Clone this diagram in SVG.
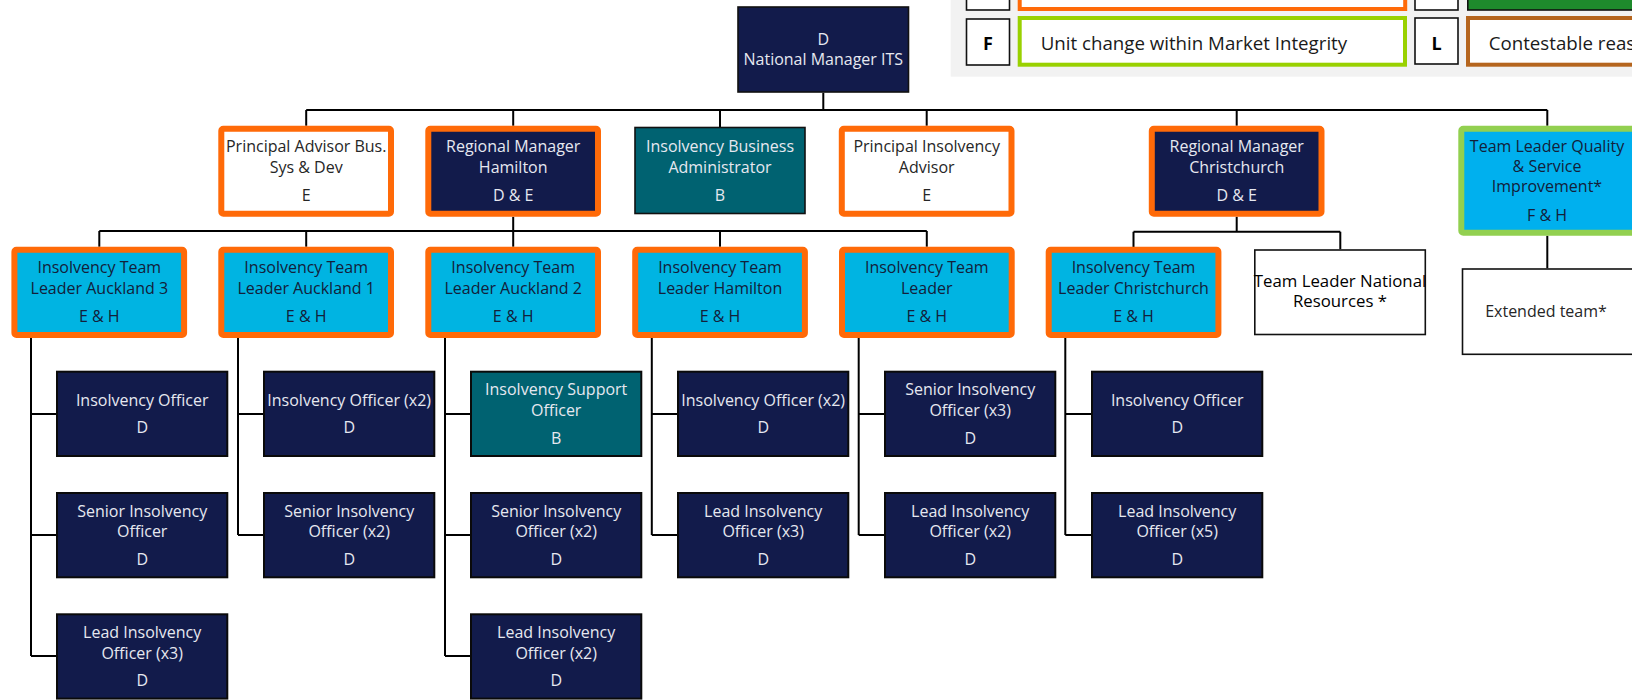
<svg xmlns="http://www.w3.org/2000/svg" width="1632" height="700" viewBox="0 0 1632 700">
  <style>
    text { font-family: "Open Sans", "Liberation Sans", sans-serif; font-size: 16px; text-anchor: middle; }
    .lt { fill: #e6e8f0; }
    .dk { fill: #13203a; }
    .gr { fill: #262626; }
    .bk { fill: #000000; font-size: 16.8px; }
    .navy { fill: #121b4b; }
    .teal { fill: #006271; }
    .sky { fill: #00b4e2; }
    .white { fill: #ffffff; }
    .orange { stroke: #ff6a08; stroke-width: 6; }
    .thin { stroke: #111111; stroke-width: 1.6; }
    .child { stroke: #0a0a0a; stroke-width: 2; }
    .green { stroke: #92d050; stroke-width: 6; }
    .conn { stroke: #000000; stroke-width: 2; fill: none; }
    .leg { font-size: 18.7px; text-anchor: start; fill: #1a1a1a; }
    .key { font-size: 18px; font-weight: bold; fill: #000; }
  </style>

  <!-- legend panel -->
  <g id="legend">
    <rect x="950.7" y="-5" width="700" height="81.7" fill="#f2f2f2"/>
    <rect x="966.5" y="-10" width="43" height="20" fill="#fff" stroke="#111" stroke-width="1.6"/>
    <rect x="1019.7" y="-10" width="385.5" height="19" fill="#fff" stroke="#ff6a08" stroke-width="4"/>
    <rect x="1415" y="-10" width="43" height="20" fill="#fff" stroke="#111" stroke-width="1.6"/>
    <rect x="1467.8" y="-10" width="180" height="20" fill="#1e8a2c" stroke="#111" stroke-width="1.6"/>
    <rect x="966.5" y="19" width="43" height="46" fill="#fff" stroke="#111" stroke-width="1.6"/>
    <text class="key" x="988" y="50">F</text>
    <rect x="1019.7" y="18" width="385.3" height="46.7" fill="#fff" stroke="#99d100" stroke-width="4"/>
    <text class="leg" x="1040.7" y="50">Unit change within Market Integrity</text>
    <rect x="1415" y="18" width="43" height="46" fill="#fff" stroke="#111" stroke-width="1.6"/>
    <text class="key" x="1436.5" y="50">L</text>
    <rect x="1468" y="18" width="180" height="46.7" fill="#fff" stroke="#b5651e" stroke-width="4"/>
    <text class="leg" x="1488.7" y="50">Contestable reas</text>
  </g>

  <!-- connectors -->
  <g id="connectors">
    <path class="conn" d="M823.3 92.7 V110 M306.2 110 H1547.3 M306.2 110 V125.7 M513.2 110 V125.7 M720 110 V127 M926.7 110 V125.7 M1236.7 110 V125.7 M1547.3 110 V125.7"/>
    <path class="conn" d="M513.2 216.7 V231 M99.3 231 H926.8 M99.3 231 V246.7 M306.2 231 V246.7 M513.2 231 V246.7 M720 231 V246.7 M926.8 231 V246.7"/>
    <path class="conn" d="M1236.7 216.7 V231.7 M1133.5 231.7 H1340.3 M1133.5 231.7 V247.3 M1340.3 231.7 V249.3"/>
    <path class="conn" d="M1547.3 235.7 V268.3"/>
    <!-- team leader to officer links -->
    <path class="conn" d="M31 338 V656 M31 414 H56 M31 535 H56 M31 656 H56"/>
    <path class="conn" d="M238 338 V535 M238 414 H263 M238 535 H263"/>
    <path class="conn" d="M445 338 V656 M445 414 H470 M445 535 H470 M445 656 H470"/>
    <path class="conn" d="M651.8 338 V535 M651.8 414 H677 M651.8 535 H677"/>
    <path class="conn" d="M858.7 338 V535 M858.7 414 H884 M858.7 535 H884"/>
    <path class="conn" d="M1065.3 338 V535 M1065.3 414 H1091 M1065.3 535 H1091"/>
  </g>

  <!-- top -->
  <g id="national-manager">
    <rect class="navy thin" x="738" y="7" width="170.5" height="85"/>
    <text class="lt" x="823.3" y="45">D</text>
    <text class="lt" x="823.3" y="65">National Manager ITS</text>
  </g>

  <!-- second level -->
  <g id="principal-advisor-bus">
    <rect class="white orange" x="221.3" y="128.7" width="169.7" height="85" rx="2"/>
    <text class="gr" x="306.2" y="151.7">Principal Advisor Bus.</text>
    <text class="gr" x="306.2" y="172.7">Sys &amp; Dev</text>
    <text class="gr" x="306.2" y="200.7">E</text>
  </g>
  <g id="regional-manager-hamilton">
    <rect class="navy orange" x="428.3" y="128.7" width="169.7" height="85" rx="2"/>
    <text class="lt" x="513.2" y="151.7">Regional Manager</text>
    <text class="lt" x="513.2" y="172.7">Hamilton</text>
    <text class="lt" x="513.2" y="200.7">D &amp; E</text>
  </g>
  <g id="insolvency-business-admin">
    <rect class="teal thin" x="635" y="127.5" width="170" height="86"/>
    <text class="lt" x="720" y="151.7">Insolvency Business</text>
    <text class="lt" x="720" y="172.7">Administrator</text>
    <text class="lt" x="720" y="200.7">B</text>
  </g>
  <g id="principal-insolvency-advisor">
    <rect class="white orange" x="841.8" y="128.7" width="169.7" height="85" rx="2"/>
    <text class="gr" x="926.7" y="151.7">Principal Insolvency</text>
    <text class="gr" x="926.7" y="172.7">Advisor</text>
    <text class="gr" x="926.7" y="200.7">E</text>
  </g>
  <g id="regional-manager-christchurch">
    <rect class="navy orange" x="1151.8" y="128.7" width="169.7" height="85" rx="2"/>
    <text class="lt" x="1236.7" y="151.7">Regional Manager</text>
    <text class="lt" x="1236.7" y="172.7">Christchurch</text>
    <text class="lt" x="1236.7" y="200.7">D &amp; E</text>
  </g>
  <g id="team-leader-quality">
    <rect class="green" fill="#00b0ee" x="1461.3" y="128.7" width="180" height="104" rx="2"/>
    <text class="dk" x="1547" y="151.5">Team Leader Quality</text>
    <text class="dk" x="1547" y="171.5">&amp; Service</text>
    <text class="dk" x="1547" y="191.5">Improvement*</text>
    <text class="dk" x="1547" y="220.5">F &amp; H</text>
  </g>

  <!-- team leaders -->
  <g id="tl-auckland-3">
    <rect class="sky orange" x="14.4" y="249.7" width="169.7" height="85.3" rx="2"/>
    <text class="dk" x="99.3" y="273.3">Insolvency Team</text>
    <text class="dk" x="99.3" y="294">Leader Auckland 3</text>
    <text class="dk" x="99.3" y="321.7">E &amp; H</text>
  </g>
  <g id="tl-auckland-1">
    <rect class="sky orange" x="221.3" y="249.7" width="169.7" height="85.3" rx="2"/>
    <text class="dk" x="306.2" y="273.3">Insolvency Team</text>
    <text class="dk" x="306.2" y="294">Leader Auckland 1</text>
    <text class="dk" x="306.2" y="321.7">E &amp; H</text>
  </g>
  <g id="tl-auckland-2">
    <rect class="sky orange" x="428.3" y="249.7" width="169.7" height="85.3" rx="2"/>
    <text class="dk" x="513.2" y="273.3">Insolvency Team</text>
    <text class="dk" x="513.2" y="294">Leader Auckland 2</text>
    <text class="dk" x="513.2" y="321.7">E &amp; H</text>
  </g>
  <g id="tl-hamilton">
    <rect class="sky orange" x="635.2" y="249.7" width="169.7" height="85.3" rx="2"/>
    <text class="dk" x="720" y="273.3">Insolvency Team</text>
    <text class="dk" x="720" y="294">Leader Hamilton</text>
    <text class="dk" x="720" y="321.7">E &amp; H</text>
  </g>
  <g id="tl-general">
    <rect class="sky orange" x="842" y="249.7" width="169.7" height="85.3" rx="2"/>
    <text class="dk" x="926.8" y="273.3">Insolvency Team</text>
    <text class="dk" x="926.8" y="294">Leader</text>
    <text class="dk" x="926.8" y="321.7">E &amp; H</text>
  </g>
  <g id="tl-christchurch">
    <rect class="sky orange" x="1048.7" y="249.7" width="169.7" height="85.3" rx="2"/>
    <text class="dk" x="1133.5" y="273.3">Insolvency Team</text>
    <text class="dk" x="1133.5" y="294">Leader Christchurch</text>
    <text class="dk" x="1133.5" y="321.7">E &amp; H</text>
  </g>
  <g id="tl-national-resources">
    <rect class="white thin" x="1254.8" y="250" width="170.5" height="84.5"/>
    <text class="bk" x="1340" y="286.7">Team Leader National</text>
    <text class="bk" x="1340" y="307.3">Resources *</text>
  </g>
  <g id="extended-team">
    <rect class="white thin" x="1462.5" y="269" width="180" height="85.3"/>
    <text class="gr" x="1546" y="316.7">Extended team*</text>
  </g>

  <!-- officers: Auckland 3 -->
  <g id="a3-officer">
    <rect class="navy child" x="57" y="371.7" width="170.3" height="84.3"/>
    <text class="lt" x="142.2" y="405.7">Insolvency Officer</text>
    <text class="lt" x="142.2" y="433.3">D</text>
  </g>
  <g id="a3-senior">
    <rect class="navy child" x="57" y="493" width="170.3" height="84.3"/>
    <text class="lt" x="142.2" y="516.7">Senior Insolvency</text>
    <text class="lt" x="142.2" y="537.3">Officer</text>
    <text class="lt" x="142.2" y="565">D</text>
  </g>
  <g id="a3-lead">
    <rect class="navy child" x="57" y="614.3" width="170.3" height="84.3"/>
    <text class="lt" x="142.2" y="638">Lead Insolvency</text>
    <text class="lt" x="142.2" y="658.6">Officer (x3)</text>
    <text class="lt" x="142.2" y="686.3">D</text>
  </g>

  <!-- officers: Auckland 1 -->
  <g id="a1-officer">
    <rect class="navy child" x="264" y="371.7" width="170.3" height="84.3"/>
    <text class="lt" x="349.2" y="405.7">Insolvency Officer (x2)</text>
    <text class="lt" x="349.2" y="433.3">D</text>
  </g>
  <g id="a1-senior">
    <rect class="navy child" x="264" y="493" width="170.3" height="84.3"/>
    <text class="lt" x="349.2" y="516.7">Senior Insolvency</text>
    <text class="lt" x="349.2" y="537.3">Officer (x2)</text>
    <text class="lt" x="349.2" y="565">D</text>
  </g>

  <!-- officers: Auckland 2 -->
  <g id="a2-support">
    <rect class="teal child" x="471" y="371.7" width="170.3" height="84.3"/>
    <text class="lt" x="556.2" y="395.4">Insolvency Support</text>
    <text class="lt" x="556.2" y="416">Officer</text>
    <text class="lt" x="556.2" y="443.7">B</text>
  </g>
  <g id="a2-senior">
    <rect class="navy child" x="471" y="493" width="170.3" height="84.3"/>
    <text class="lt" x="556.2" y="516.7">Senior Insolvency</text>
    <text class="lt" x="556.2" y="537.3">Officer (x2)</text>
    <text class="lt" x="556.2" y="565">D</text>
  </g>
  <g id="a2-lead">
    <rect class="navy child" x="471" y="614.3" width="170.3" height="84.3"/>
    <text class="lt" x="556.2" y="638">Lead Insolvency</text>
    <text class="lt" x="556.2" y="658.6">Officer (x2)</text>
    <text class="lt" x="556.2" y="686.3">D</text>
  </g>

  <!-- officers: Hamilton -->
  <g id="ham-officer">
    <rect class="navy child" x="678" y="371.7" width="170.3" height="84.3"/>
    <text class="lt" x="763.2" y="405.7">Insolvency Officer (x2)</text>
    <text class="lt" x="763.2" y="433.3">D</text>
  </g>
  <g id="ham-lead">
    <rect class="navy child" x="678" y="493" width="170.3" height="84.3"/>
    <text class="lt" x="763.2" y="516.7">Lead Insolvency</text>
    <text class="lt" x="763.2" y="537.3">Officer (x3)</text>
    <text class="lt" x="763.2" y="565">D</text>
  </g>

  <!-- officers: general team -->
  <g id="gen-senior">
    <rect class="navy child" x="885" y="371.7" width="170.3" height="84.3"/>
    <text class="lt" x="970.2" y="395.4">Senior Insolvency</text>
    <text class="lt" x="970.2" y="416">Officer (x3)</text>
    <text class="lt" x="970.2" y="443.7">D</text>
  </g>
  <g id="gen-lead">
    <rect class="navy child" x="885" y="493" width="170.3" height="84.3"/>
    <text class="lt" x="970.2" y="516.7">Lead Insolvency</text>
    <text class="lt" x="970.2" y="537.3">Officer (x2)</text>
    <text class="lt" x="970.2" y="565">D</text>
  </g>

  <!-- officers: Christchurch -->
  <g id="chch-officer">
    <rect class="navy child" x="1092" y="371.7" width="170.3" height="84.3"/>
    <text class="lt" x="1177.2" y="405.7">Insolvency Officer</text>
    <text class="lt" x="1177.2" y="433.3">D</text>
  </g>
  <g id="chch-lead">
    <rect class="navy child" x="1092" y="493" width="170.3" height="84.3"/>
    <text class="lt" x="1177.2" y="516.7">Lead Insolvency</text>
    <text class="lt" x="1177.2" y="537.3">Officer (x5)</text>
    <text class="lt" x="1177.2" y="565">D</text>
  </g>
</svg>
